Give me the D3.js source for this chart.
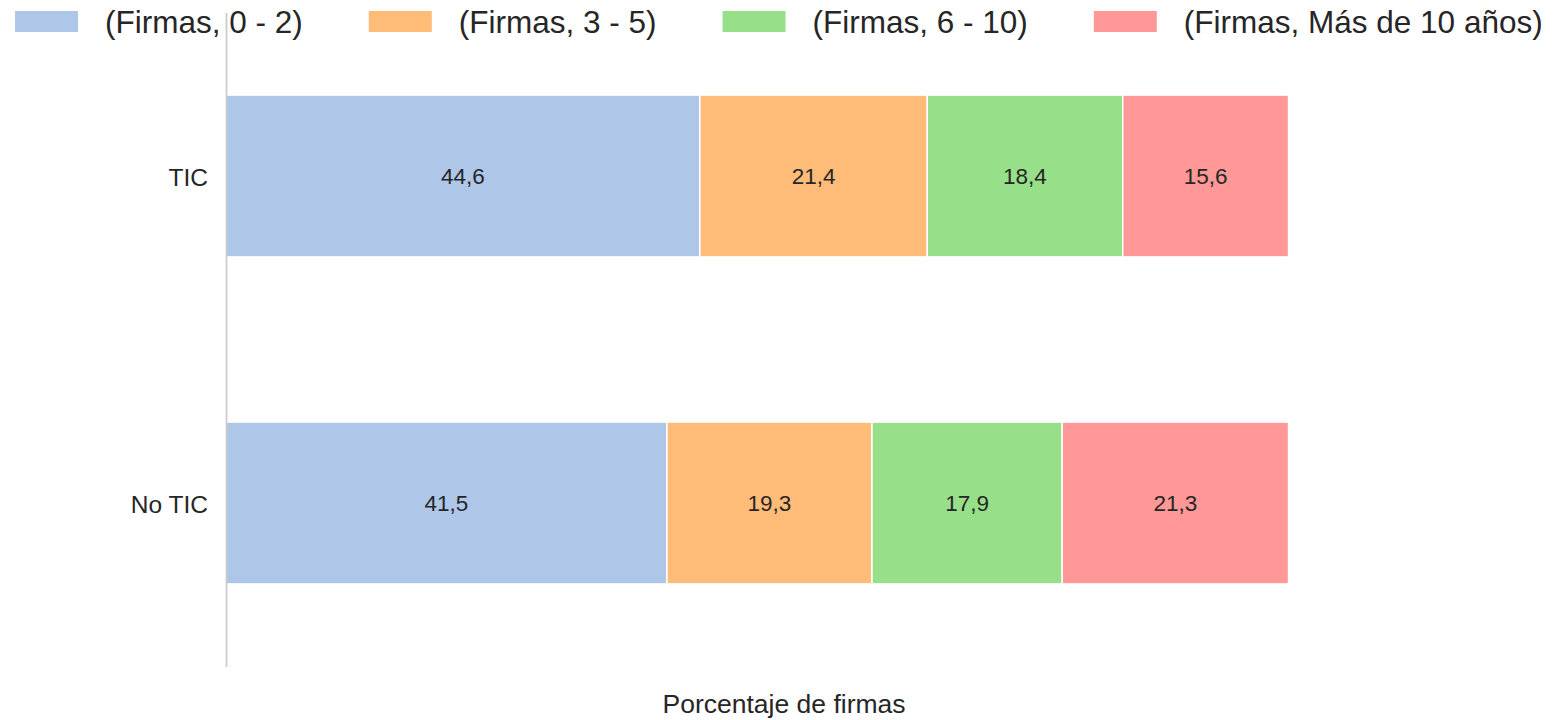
<!DOCTYPE html>
<html>
<head>
<meta charset="utf-8">
<script src="https://cdn.jsdelivr.net/npm/d3@7"></script>
<style>
body { margin:0; background:#fff; }
text { font-family: "Liberation Sans", Arial, sans-serif; fill:#262626; }
</style>
</head>
<body>
<div id="svgContainer"></div>
<script>
var svgWidth = 1560, svgHeight = 720;

// data
var groups = ["TIC", "No TIC"];
var seriesNames = ["(Firmas, 0 - 2)", "(Firmas, 3 - 5)", "(Firmas, 6 - 10)", "(Firmas, Más de 10 años)"];
var ticValues = [44.6, 21.4, 18.4, 15.6];
var noTicValues = [41.5, 19.3, 17.9, 21.3];
var colorList = ["#aec7e8", "#ffbb78", "#98df8a", "#ff9896"];

var svg = d3.select("#svgContainer").append("svg")
    .attr("width", svgWidth)
    .attr("height", svgHeight);

var x = d3.scaleLinear().domain([0, 100]).range([226, 1288.5]);
var y = d3.scaleBand().domain(groups).range([12.5, 666.5]).paddingInner(0.505).paddingOuter(0.2525);
var colors = d3.scaleOrdinal().domain(seriesNames).range(colorList);

// build stacked rows
var rows = [];
[ticValues, noTicValues].forEach(function(vals, gi){
    var start = 0;
    vals.forEach(function(v, si){
        rows.push({group: groups[gi], series: seriesNames[si], x0: start, x1: start + v, value: v});
        start += v;
    });
});

svg.append("g")
    .selectAll("rect")
    .data(rows)
    .enter()
    .append("rect")
    .attr("x", d => x(d.x0))
    .attr("y", d => y(d.group))
    .attr("width", d => x(d.x1) - x(d.x0))
    .attr("height", y.bandwidth())
    .attr("fill", d => colors(d.series))
    .attr("stroke", "#fff")
    .attr("stroke-width", 1.5);

// bar labels
svg.append("g")
    .selectAll("text")
    .data(rows)
    .enter()
    .append("text")
    .attr("x", d => (x(d.x0) + x(d.x1)) / 2)
    .attr("y", d => y(d.group) + y.bandwidth() / 2)
    .attr("dy", "0.35em")
    .attr("text-anchor", "middle")
    .attr("font-size", 22.5)
    .text(d => d.value.toFixed(1).replace(".", ","));

// y axis
var yAxis = svg.append("g")
    .attr("transform", "translate(226,0)")
    .call(d3.axisLeft(y).tickSize(0).tickPadding(18));
yAxis.select(".domain").attr("stroke", "#cccccc").attr("stroke-width", 1.8);
yAxis.selectAll("text").attr("font-size", 24.5).attr("fill", "#262626")
    .attr("dy", "0.4em")
    .style("font-family", "'Liberation Sans', Arial, sans-serif");

// x axis label
svg.append("text")
    .attr("x", 784)
    .attr("y", 713)
    .attr("text-anchor", "middle")
    .attr("font-size", 26.5)
    .text("Porcentaje de firmas");

// legend
var lx = 15;
var legend = svg.append("g").attr("id", "legend");
seriesNames.forEach(function(name, i){
    var g = legend.append("g").attr("transform", "translate(" + lx + ",0)");
    g.append("rect")
        .attr("x", 0).attr("y", 11)
        .attr("width", 63).attr("height", 21)
        .attr("fill", colors(name));
    var t = g.append("text")
        .attr("x", 90).attr("y", 33)
        .attr("font-size", 31.5)
        .text(name);
    lx += 90 + t.node().getComputedTextLength() + 66;
});
</script>
</body>
</html>
